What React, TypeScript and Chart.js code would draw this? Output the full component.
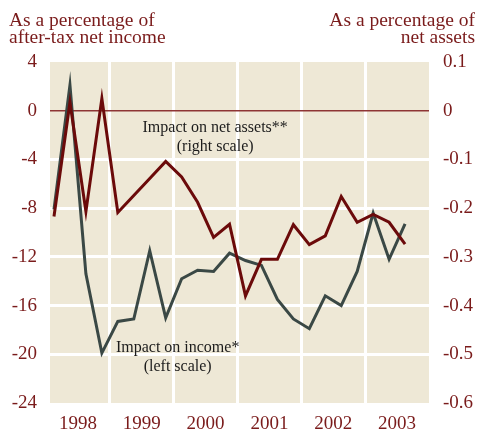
import React, { useEffect, useRef } from "react";
import { Chart, registerables } from "chart.js";

Chart.register(...registerables);

// ---- Data (quarterly, 1998 Q1 .. 2003 Q3) ----
const years = ["1998", "1999", "2000", "2001", "2002", "2003"];
const quarterIndex = Array.from({ length: 23 }, (_, i) => i); // 0 = 1998 Q1
const incomeImpact = [
  -8.1, 2.1, -13.4, -19.9, -17.3, -17.1, -11.5, -17.0, -13.8, -13.1, -13.2, -11.7,
  -12.3, -12.7, -15.5, -17.1, -17.9, -15.2, -16.0, -13.2, -8.4, -12.2, -9.3,
];
const assetsImpact = [
  -0.217, 0.017, -0.207, 0.025, -0.209, -0.174, -0.139, -0.104, -0.136, -0.188, -0.26, -0.233,
  -0.38, -0.305, -0.305, -0.234, -0.275, -0.257, -0.176, -0.229, -0.213, -0.229, -0.274,
];
const leftTicks = [4, 0, -4, -8, -12, -16, -20, -24];
const rightTicks = [0.1, 0, -0.1, -0.2, -0.3, -0.4, -0.5, -0.6];
const yearBoundaries = [3.5, 7.5, 11.5, 15.5, 19.5];
const yearCenters = [1.5, 5.5, 9.5, 13.5, 17.5, 21.5];

const MAROON = "#7a1b1b";
const RED_LINE = "#6b0a0a";
const GRAY_LINE = "#3a4845";
const PLOT_BG = "#eee8d6";
const SERIF = "'Liberation Serif', 'Times New Roman', serif";

export default function App() {
  const canvasRef = useRef<HTMLCanvasElement | null>(null);

  useEffect(() => {
    document.body.style.margin = "0";
    const canvas = canvasRef.current;
    if (!canvas) return;

    const bgPlugin = {
      id: "plotBg",
      beforeDraw(chart: any) {
        const { ctx, chartArea } = chart;
        ctx.save();
        ctx.fillStyle = PLOT_BG;
        ctx.fillRect(chartArea.left, chartArea.top, chartArea.right - chartArea.left, chartArea.bottom - chartArea.top);
        ctx.restore();
      },
    };

    const textPlugin = {
      id: "texts",
      afterDraw(chart: any) {
        const { ctx, scales } = chart;
        const x = scales.x;
        const yL = scales.y;
        const yR = scales.y1;
        ctx.save();
        // titles
        ctx.fillStyle = MAROON;
        ctx.font = `19.5px ${SERIF}`;
        ctx.textBaseline = "alphabetic";
        ctx.textAlign = "left";
        ctx.fillText("As a percentage of", 9, 26);
        ctx.fillText("after-tax net income", 9, 43);
        ctx.textAlign = "right";
        ctx.fillText("As a percentage of", 475, 26);
        ctx.fillText("net assets", 475, 43);
        // annotations
        ctx.fillStyle = "#1c1c1c";
        ctx.font = `16px ${SERIF}`;
        ctx.textAlign = "center";
        ctx.textBaseline = "middle";
        const ax = x.getPixelForValue(10.1);
        const ay = yR.getPixelForValue(-0.036);
        ctx.fillText("Impact on net assets**", ax, ay);
        ctx.fillText("(right scale)", ax, ay + 19);
        const bx = x.getPixelForValue(7.75);
        const by = yL.getPixelForValue(-19.5);
        ctx.fillText("Impact on income*", bx, by);
        ctx.fillText("(left scale)", bx, by + 19);
        ctx.restore();
      },
    };

    const chart = new Chart(canvas, {
      type: "line",
      data: {
        datasets: [
          {
            label: "Impact on net assets",
            data: quarterIndex.map((q, i) => ({ x: q, y: assetsImpact[i] })),
            yAxisID: "y1",
            xAxisID: "x",
            borderColor: RED_LINE,
            borderWidth: 3,
            pointRadius: 0,
            tension: 0,
            fill: false,
          },
          {
            label: "Impact on income",
            data: quarterIndex.map((q, i) => ({ x: q, y: incomeImpact[i] })),
            yAxisID: "y",
            xAxisID: "x",
            borderColor: GRAY_LINE,
            borderWidth: 3,
            pointRadius: 0,
            tension: 0,
            fill: false,
          },
        ],
      },
      options: {
        animation: false,
        responsive: true,
        maintainAspectRatio: false,
        layout: { padding: { top: 62, left: 0, right: 0, bottom: 0 } },
        plugins: {
          legend: { display: false },
          tooltip: { enabled: false },
          title: { display: false },
        },
        scales: {
          xg: {
            type: "linear",
            position: "bottom",
            min: -0.25,
            max: 23.5,
            afterBuildTicks: (s: any) => {
              s.ticks = yearBoundaries.map((v) => ({ value: v }));
            },
            afterFit: (s: any) => {
              s.height = 0;
            },
            ticks: { display: false },
            grid: { color: "#ffffff", lineWidth: 3, drawTicks: false },
            border: { display: false },
          },
          x: {
            type: "linear",
            position: "bottom",
            min: -0.25,
            max: 23.5,
            afterBuildTicks: (s: any) => {
              s.ticks = yearCenters.map((v) => ({ value: v }));
            },
            afterFit: (s: any) => {
              s.height = 26;
            },
            ticks: {
              autoSkip: false,
              maxRotation: 0,
              padding: 10,
              color: MAROON,
              font: { family: SERIF, size: 19 },
              callback: (v: any) => years[Math.round((Number(v) - 1.5) / 4)] ?? "",
            },
            grid: { display: false, drawTicks: false },
            border: { display: false },
          },
          y: {
            type: "linear",
            position: "left",
            min: -24,
            max: 4,
            afterBuildTicks: (s: any) => {
              s.ticks = leftTicks.map((v) => ({ value: v }));
            },
            afterFit: (s: any) => {
              s.width = 50;
            },
            ticks: {
              padding: 13,
              color: MAROON,
              font: { family: SERIF, size: 19 },
              callback: (v: any) => String(Math.round(Number(v))),
            },
            grid: {
              drawTicks: false,
              color: (c: any) => {
                const v = c.tick ? c.tick.value : null;
                if (v === 0) return "#8e3535";
                if (v === 4 || v === -24) return "rgba(0,0,0,0)";
                return "#ffffff";
              },
              lineWidth: (c: any) => (c.tick && c.tick.value === 0 ? 1.5 : 3),
            },
            border: { display: false },
          },
          y1: {
            type: "linear",
            position: "right",
            min: -0.6,
            max: 0.1,
            afterBuildTicks: (s: any) => {
              s.ticks = rightTicks.map((v) => ({ value: v }));
            },
            afterFit: (s: any) => {
              s.width = 48;
            },
            ticks: {
              padding: 14,
              color: MAROON,
              font: { family: SERIF, size: 19 },
              callback: (v: any) => {
                const r = Math.round(Number(v) * 10) / 10;
                return r === 0 ? "0" : String(r);
              },
            },
            grid: { display: false, drawTicks: false },
            border: { display: false },
          },
        },
      },
      plugins: [bgPlugin, textPlugin],
    } as any);

    return () => {
      chart.destroy();
    };
  }, []);

  return (
    <div style={{ position: "relative", width: "477px", height: "429px" }}>
      <canvas ref={canvasRef} />
    </div>
  );
}
